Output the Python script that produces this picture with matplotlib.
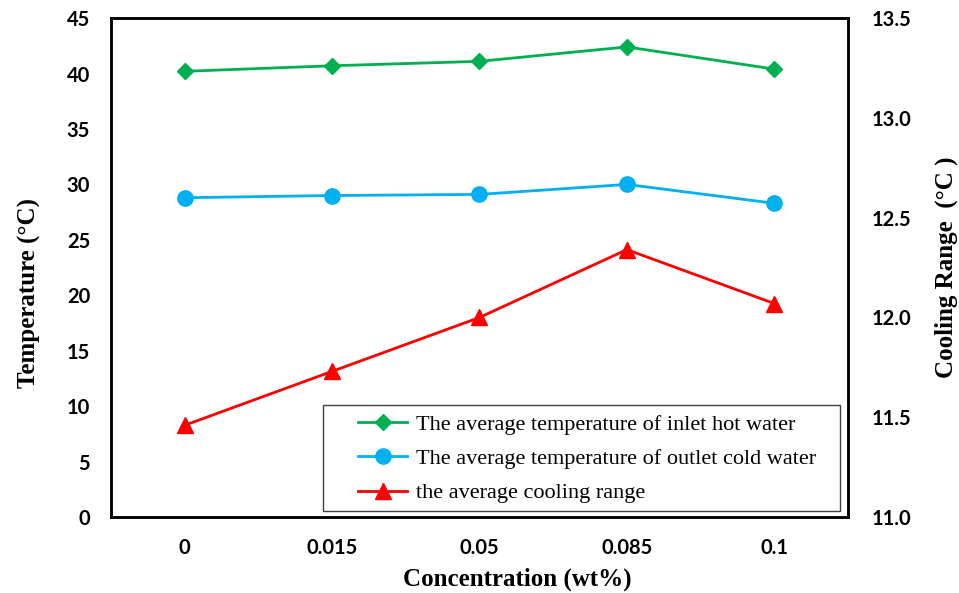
import numpy as np
import matplotlib.pyplot as plt
from matplotlib.patches import Rectangle

categories = ['0', '0.015', '0.05', '0.085', '0.1']
inlet_hot = [40.2, 40.7, 41.1, 42.4, 40.4]
outlet_cold = [28.8, 29.0, 29.1, 30.0, 28.3]
cooling_range = [11.46, 11.73, 12.00, 12.34, 12.07]

plt.rcParams['font.family'] = ['Liberation Serif', 'DejaVu Serif']

fig = plt.figure(figsize=(9.59, 5.93), dpi=100)
ax = fig.add_axes([0.1157, 0.128, 0.7685, 0.8415])
ax2 = ax.twinx()

x = np.arange(len(categories))
l1, = ax.plot(x, inlet_hot, color='#00B050', lw=2.0, marker='D', ms=8.5,
              label='The average temperature of inlet hot water')
l2, = ax.plot(x, outlet_cold, color='#00B0F0', lw=2.0, marker='o', ms=11,
              label='The average temperature of outlet cold water')
l3, = ax2.plot(x, cooling_range, color='#FF0000', lw=2.0, marker='^', ms=11,
               label='the average cooling range')

ax.set_xlim(-0.5, 4.5)
ax.set_ylim(0, 45)
ax.set_yticks(np.arange(0, 46, 5))
ax2.set_ylim(11.0, 13.5)
ax2.set_yticks(np.arange(11.0, 13.51, 0.5))
ax2.set_yticklabels([f'{v:.1f}' for v in np.arange(11.0, 13.51, 0.5)])
ax.set_xticks(x)
ax.set_xticklabels(categories)

for lab in ax.get_xticklabels() + ax.get_yticklabels() + ax2.get_yticklabels():
    lab.set_fontfamily('Lato')
    lab.set_fontweight('bold')
    lab.set_fontsize(14.5)

ax.tick_params(axis='x', length=0, pad=15)
ax.tick_params(axis='y', length=0, pad=15)
ax2.tick_params(axis='y', length=0, pad=17)

for a in (ax, ax2):
    for s in a.spines.values():
        s.set_linewidth(1.8)

ax.set_xlabel('Concentration (wt%)', fontsize=18, fontweight='bold')
ax.xaxis.set_label_coords(0.552, -0.102)
ax.set_ylabel('Temperature (°C)', fontsize=18, fontweight='bold')
ax.yaxis.set_label_coords(-0.095, 0.45)
ax2.set_ylabel('Cooling Range  (°C )', fontsize=18, fontweight='bold')
ax2.yaxis.set_label_coords(1.117, 0.5)

# legend frame drawn separately (the original has a wide left margin)
ax.add_patch(Rectangle((0.2877, 0.012), 0.7013, 0.2124, transform=ax.transAxes,
                       facecolor='white', edgecolor='#404040', lw=1.0, zorder=4))
leg = ax.legend(handles=[l1, l2, l3], loc='center', bbox_to_anchor=(0.646, 0.117),
                fontsize=16, frameon=False, handlelength=2.2,
                borderpad=0, labelspacing=0.62, handletextpad=0.4)
leg.set_zorder(5)

fig.savefig('out.png', dpi=100)
